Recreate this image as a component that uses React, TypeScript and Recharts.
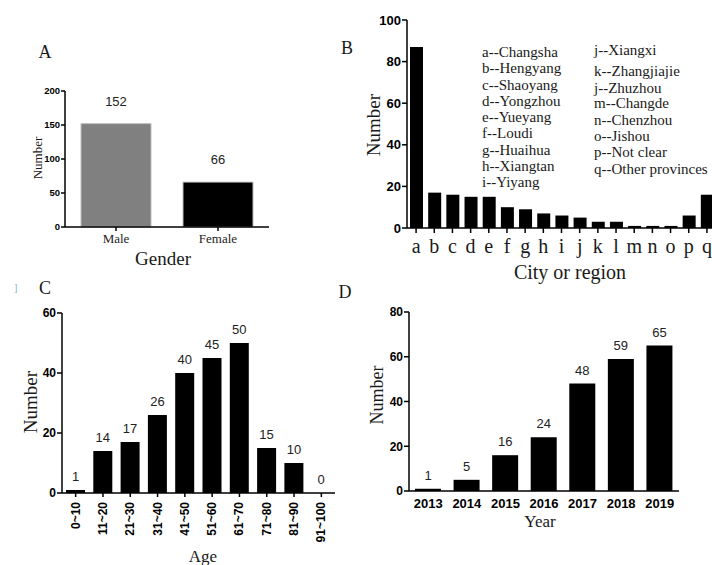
import React from "react";
import { BarChart, Bar, XAxis, YAxis, LabelList, Cell, Rectangle } from "recharts";

// A - gender
const genders = ["Male", "Female"];
const genderCounts = [152, 66];
const genderTicks = [0, 50, 100, 150, 200];

// B - city or region
const regionCodes = ["a", "b", "c", "d", "e", "f", "g", "h", "i", "j", "k", "l", "m", "n", "o", "p", "q"];
const regionCounts = [87, 17, 16, 15, 15, 10, 9, 7, 6, 5, 3, 3, 1, 1, 1, 6, 16];
const regionTicks = [0, 20, 40, 60, 80, 100];
const legendLeft = [
  "a--Changsha",
  "b--Hengyang",
  "c--Shaoyang",
  "d--Yongzhou",
  "e--Yueyang",
  "f--Loudi",
  "g--Huaihua",
  "h--Xiangtan",
  "i--Yiyang",
];
const legendRight = [
  "j--Xiangxi",
  "k--Zhangjiajie",
  "j--Zhuzhou",
  "m--Changde",
  "n--Chenzhou",
  "o--Jishou",
  "p--Not clear",
  "q--Other provinces",
];

// C - age
const ageGroups = ["0~10", "11~20", "21~30", "31~40", "41~50", "51~60", "61~70", "71~80", "81~90", "91~100"];
const ageCounts = [1, 14, 17, 26, 40, 45, 50, 15, 10, 0];
const ageTicks = [0, 20, 40, 60];

// D - year
const years = ["2013", "2014", "2015", "2016", "2017", "2018", "2019"];
const yearCounts = [1, 5, 16, 24, 48, 59, 65];
const yearTicks = [0, 20, 40, 60, 80];

const genderData = genders.map((name, i) => ({ name, value: genderCounts[i] }));
const regionData = regionCodes.map((name, i) => ({ name, value: regionCounts[i] }));
const ageData = ageGroups.map((name, i) => ({ name, value: ageCounts[i] }));
const yearData = years.map((name, i) => ({ name, value: yearCounts[i] }));

const SERIF = "'Liberation Serif', 'Times New Roman', serif";
const SANS = "'Liberation Sans', Arial, sans-serif";
const AXIS = { stroke: "#000", strokeWidth: 1.5 };
const TICK_LINE = { stroke: "#000", strokeWidth: 1.5 };

// absolutely placed text, centred on (x, y)
function Txt({ x, y, size, children, rotate, anchor = "center", color = "#1a1a1a", font = SERIF }: any) {
  const tx = anchor === "left" ? "0" : "-50%";
  return (
    <div
      style={{
        position: "absolute",
        left: x,
        top: y,
        fontFamily: font,
        fontSize: size,
        lineHeight: 1,
        color,
        whiteSpace: "nowrap",
        transform: `translate(${tx}, -50%)${rotate ? ` rotate(${rotate}deg)` : ""}`,
        transformOrigin: "center",
      }}
    >
      {children}
    </div>
  );
}

const AgeTick = (props: any) => {
  const { x, y, payload } = props;
  return (
    <text
      x={x}
      y={y}
      transform={`rotate(-90 ${x} ${y})`}
      textAnchor="end"
      dominantBaseline="central"
      fontFamily={SANS}
      fontWeight="bold"
      fontSize={12}
      fill="#000"
    >
      {payload.value}
    </text>
  );
};

// value above each bar
const makeTopLabel = (offset: number) => (p: any) => {
  const { x, y, width, value } = p;
  return (
    <text
      x={Number(x) + Number(width) / 2}
      y={Number(y) - offset}
      textAnchor="middle"
      fontFamily={SANS}
      fontSize={13}
      fill="#222"
    >
      {String(value)}
    </text>
  );
};

// bar shape that also writes its value, so zero-height bars keep their "0"
const makeLabelledBar = (offset: number) => (p: any) => {
  const { x, y, width, height, value } = p;
  const v = Array.isArray(value) ? value[1] - value[0] : value;
  return (
    <g>
      {height > 0 && <Rectangle x={x} y={y} width={width} height={height} fill="#000" />}
      <text x={x + width / 2} y={y - offset} textAnchor="middle" fontFamily={SANS} fontSize={13} fill="#222">
        {String(v)}
      </text>
    </g>
  );
};

export default function App() {
  return (
    <div
      style={{
        position: "absolute",
        left: 0,
        top: 0,
        width: 712,
        height: 565,
        overflow: "hidden",
        background: "#fff",
      }}
    >
      {/* A: gender */}
      <div style={{ position: "absolute", left: 0, top: 0 }}>
        <BarChart width={280} height={250} data={genderData} margin={{ top: 91, right: 11, bottom: 0, left: 0 }} barSize={70}>
          <XAxis
            dataKey="name"
            axisLine={AXIS}
            tickLine={TICK_LINE}
            tickSize={4}
            tickMargin={3}
            height={23}
            tick={{ fontFamily: SERIF, fontSize: 13, fill: "#222" }}
            interval={0}
          />
          <YAxis
            width={65}
            domain={[0, 200]}
            ticks={genderTicks}
            axisLine={AXIS}
            tickLine={TICK_LINE}
            tickSize={4}
            tickMargin={1}
            tick={{ fontFamily: SANS, fontWeight: "bold", fontSize: 9.5, fill: "#000" }}
          />
          <Bar dataKey="value" isAnimationActive={false} stroke="#bdbdbd" strokeWidth={1}>
            {genderData.map((d, i) => (
              <Cell key={d.name} fill={i === 0 ? "#808080" : "#000"} />
            ))}
            <LabelList dataKey="value" content={makeTopLabel(18)} />
          </Bar>
        </BarChart>
      </div>

      {/* B: city or region */}
      <div style={{ position: "absolute", left: 330, top: 0 }}>
        <BarChart width={400} height={260} data={regionData} margin={{ top: 20, right: 14, bottom: 0, left: 0 }} barSize={13}>
          <XAxis
            dataKey="name"
            axisLine={AXIS}
            tickLine={TICK_LINE}
            tickSize={5}
            tickMargin={6}
            height={32}
            interval={0}
            tick={{ fontFamily: SERIF, fontSize: 20, fill: "#1a1a1a" }}
          />
          <YAxis
            width={77}
            domain={[0, 100]}
            ticks={regionTicks}
            axisLine={AXIS}
            tickLine={TICK_LINE}
            tickSize={5}
            tickMargin={1}
            tick={{ fontFamily: SANS, fontWeight: "bold", fontSize: 13, fill: "#000" }}
          />
          <Bar dataKey="value" fill="#000" isAnimationActive={false} />
        </BarChart>
      </div>

      {/* C: age */}
      <div style={{ position: "absolute", left: 0, top: 290 }}>
        <BarChart width={350} height={275} data={ageData} margin={{ top: 23, right: 15, bottom: 0, left: 0 }} barSize={19}>
          <XAxis
            dataKey="name"
            axisLine={AXIS}
            tickLine={TICK_LINE}
            tickSize={4}
            tickMargin={5}
            height={72}
            interval={0}
            tick={<AgeTick />}
          />
          <YAxis
            width={62}
            domain={[0, 60]}
            ticks={ageTicks}
            axisLine={AXIS}
            tickLine={TICK_LINE}
            tickSize={5}
            tickMargin={1}
            tick={{ fontFamily: SANS, fontWeight: "bold", fontSize: 12, fill: "#000" }}
          />
          <Bar dataKey="value" fill="#000" isAnimationActive={false} shape={makeLabelledBar(9)} />
        </BarChart>
      </div>

      {/* D: year */}
      <div style={{ position: "absolute", left: 350, top: 290 }}>
        <BarChart width={362} height={275} data={yearData} margin={{ top: 22, right: 33, bottom: 0, left: 0 }} barSize={26}>
          <XAxis
            dataKey="name"
            axisLine={AXIS}
            tickLine={false}
            tickSize={5}
            tickMargin={3}
            height={74}
            interval={0}
            tick={{ fontFamily: SANS, fontWeight: "bold", fontSize: 13, fill: "#000" }}
          />
          <YAxis
            width={59}
            domain={[0, 80]}
            ticks={yearTicks}
            axisLine={AXIS}
            tickLine={TICK_LINE}
            tickSize={5}
            tickMargin={1}
            tick={{ fontFamily: SANS, fontWeight: "bold", fontSize: 12, fill: "#000" }}
          />
          <Bar dataKey="value" fill="#000" isAnimationActive={false}>
            <LabelList dataKey="value" content={makeTopLabel(9)} />
          </Bar>
        </BarChart>
      </div>

      {/* panel letters */}
      <Txt x={45} y={52} size={18}>A</Txt>
      <Txt x={347} y={48} size={18}>B</Txt>
      <Txt x={45} y={288} size={18}>C</Txt>
      <Txt x={345} y={292} size={18}>D</Txt>
      <Txt x={16} y={288} size={9} color="#7aaed6" font={SANS}>]</Txt>

      {/* axis titles */}
      <Txt x={37} y={158} size={13} rotate={-90}>Number</Txt>
      <Txt x={163} y={258} size={19}>Gender</Txt>
      <Txt x={373} y={125} size={19} rotate={-90}>Number</Txt>
      <Txt x={570} y={272} size={20}>City or region</Txt>
      <Txt x={30} y={402} size={19} rotate={-90}>Number</Txt>
      <Txt x={203} y={556} size={17}>Age</Txt>
      <Txt x={377} y={395} size={18} rotate={-90}>Number</Txt>
      <Txt x={540} y={521} size={17}>Year</Txt>

      {/* region key */}
      {legendLeft.map((t, i) => (
        <Txt key={t} x={482} y={52 + i * 16.25} size={15} anchor="left">
          {t}
        </Txt>
      ))}
      {legendRight.map((t, i) => (
        <Txt key={t + i} x={594} y={[50, 71, 88, 103, 120, 136, 152, 169][i]} size={15} anchor="left">
          {t}
        </Txt>
      ))}
    </div>
  );
}
